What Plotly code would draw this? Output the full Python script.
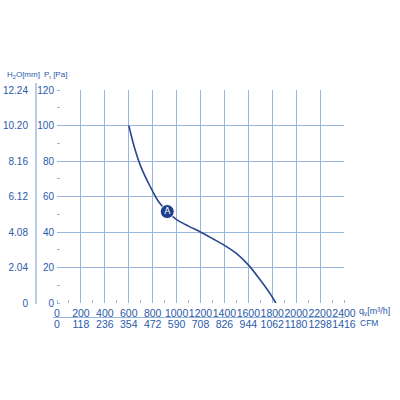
import plotly.graph_objects as go

# Data
flow_m3h = [600, 650, 700, 780, 850, 922, 1000, 1100, 1200, 1300, 1400, 1500, 1600, 1700, 1780, 1830]
pressure_pa = [100, 87, 77, 65.5, 57, 51.5, 47, 43.3, 40, 36.3, 32.5, 28, 21.5, 13, 5.5, 0]
point_a = {"q": [922], "p": [51.5], "label": ["A"]}

x_ticks = [0, 200, 400, 600, 800, 1000, 1200, 1400, 1600, 1800, 2000, 2200, 2400]
cfm_labels = ["0", "118", "236", "354", "472", "590", "708", "826", "944", "1062", "1180", "1298", "1416"]
pa_ticks = [0, 20, 40, 60, 80, 100, 120]
h2o_ticks = [0, 2.04, 4.08, 6.12, 8.16, 10.20, 12.24]
h2o_labels = ["0", "2.04", "4.08", "6.12", "8.16", "10.20", "12.24"]

TXT = "#2a5aa8"
GRID = "#9ab6de"
CURVE = "#27488e"
FONT = "Arial, Liberation Sans, sans-serif"

W = H = 400
L, R, T, B = 57, 344, 90, 303
xd = [L / W, R / W]
yd = [1 - B / H, 1 - T / H]

fig = go.Figure()
fig.add_trace(go.Scatter(x=flow_m3h, y=pressure_pa, mode="lines",
                         line=dict(color=CURVE, width=1.6, shape="spline", smoothing=0.8),
                         hoverinfo="skip", showlegend=False))
fig.add_trace(go.Scatter(x=point_a["q"], y=point_a["p"], mode="markers+text",
                         text=point_a["label"], textposition="middle center",
                         textfont=dict(color="white", size=9, family="Arial Black, DejaVu Sans"),
                         marker=dict(size=14, color="#1f3f8c", line=dict(color="white", width=1)),
                         showlegend=False))
# invisible traces to activate secondary axes
fig.add_trace(go.Scatter(x=[0], y=[0], xaxis="x2", yaxis="y", mode="markers",
                         marker=dict(opacity=0), showlegend=False, hoverinfo="skip"))
fig.add_trace(go.Scatter(x=[0], y=[0], xaxis="x", yaxis="y2", mode="markers",
                         marker=dict(opacity=0), showlegend=False, hoverinfo="skip"))

fig.update_layout(
    width=W, height=H, margin=dict(l=0, r=0, t=0, b=0, autoexpand=False),
    paper_bgcolor="white", plot_bgcolor="white",
    font=dict(family=FONT, color=TXT, size=10),
    xaxis=dict(domain=xd, range=[0, 2400], tickvals=x_ticks, showgrid=True, gridcolor=GRID,
               gridwidth=1, zeroline=False, showline=False, ticks="", tickangle=0, automargin=False,
               tickfont=dict(size=10.5, color=TXT), ticklabelstandoff=2,
               minor=dict(dtick=100, tick0=0, ticks="inside", ticklen=3, tickcolor=GRID, showgrid=False),
               anchor="y"),
    yaxis=dict(domain=yd, range=[0, 120], tickvals=pa_ticks, showgrid=True, gridcolor=GRID,
               gridwidth=1, zeroline=False, showline=False, ticks="", automargin=False,
               tickfont=dict(size=10, color=TXT), ticklabelstandoff=2,
               minor=dict(dtick=10, tick0=0, ticks="inside", ticklen=3, tickcolor=GRID, showgrid=False),
               anchor="x"),
    xaxis2=dict(domain=xd, range=[0, 2400], tickvals=x_ticks, ticktext=cfm_labels,
                overlaying="x", anchor="free", position=1 - 316 / H, side="bottom",
                showgrid=False, zeroline=False, showline=False, ticks="", tickangle=0, automargin=False,
                tickfont=dict(size=10.5, color=TXT)),
    yaxis2=dict(domain=yd, range=[0, 12.24], tickvals=h2o_ticks, ticktext=h2o_labels,
                overlaying="y", anchor="free", position=36 / W, side="left", automargin=False,
                showgrid=False, zeroline=False, showline=False,
                ticks="", ticklabelstandoff=8,
                tickfont=dict(size=10, color=TXT)),
    shapes=[dict(type="line", xref="paper", yref="paper", x0=53 / W, x1=345 / W,
                 y0=1 - 317.5 / H, y1=1 - 317.5 / H, line=dict(color=GRID, width=1)),
            dict(type="line", xref="paper", yref="paper", x0=36 / W, x1=36 / W,
                 y0=1 - 83 / H, y1=1 - 304 / H, line=dict(color="#8aa9d6", width=1.2))],
    annotations=[
        dict(text="H<sub>2</sub>O[mm]", x=5 / W, y=1 - 75 / H, xref="paper", yref="paper",
             xanchor="left", yanchor="middle", showarrow=False, font=dict(size=8, color=TXT)),
        dict(text="P<sub>t</sub> [Pa]", x=42 / W, y=1 - 75 / H, xref="paper", yref="paper",
             xanchor="left", yanchor="middle", showarrow=False, font=dict(size=8, color=TXT)),
        dict(text="q<sub>v</sub>[m³/h]", x=357 / W, y=1 - 311 / H, xref="paper", yref="paper",
             xanchor="left", yanchor="middle", showarrow=False, font=dict(size=9, color=TXT)),
        dict(text="CFM", x=358 / W, y=1 - 323 / H, xref="paper", yref="paper",
             xanchor="left", yanchor="middle", showarrow=False, font=dict(size=8.5, color=TXT)),
    ],
)

fig.write_html("out.html")
